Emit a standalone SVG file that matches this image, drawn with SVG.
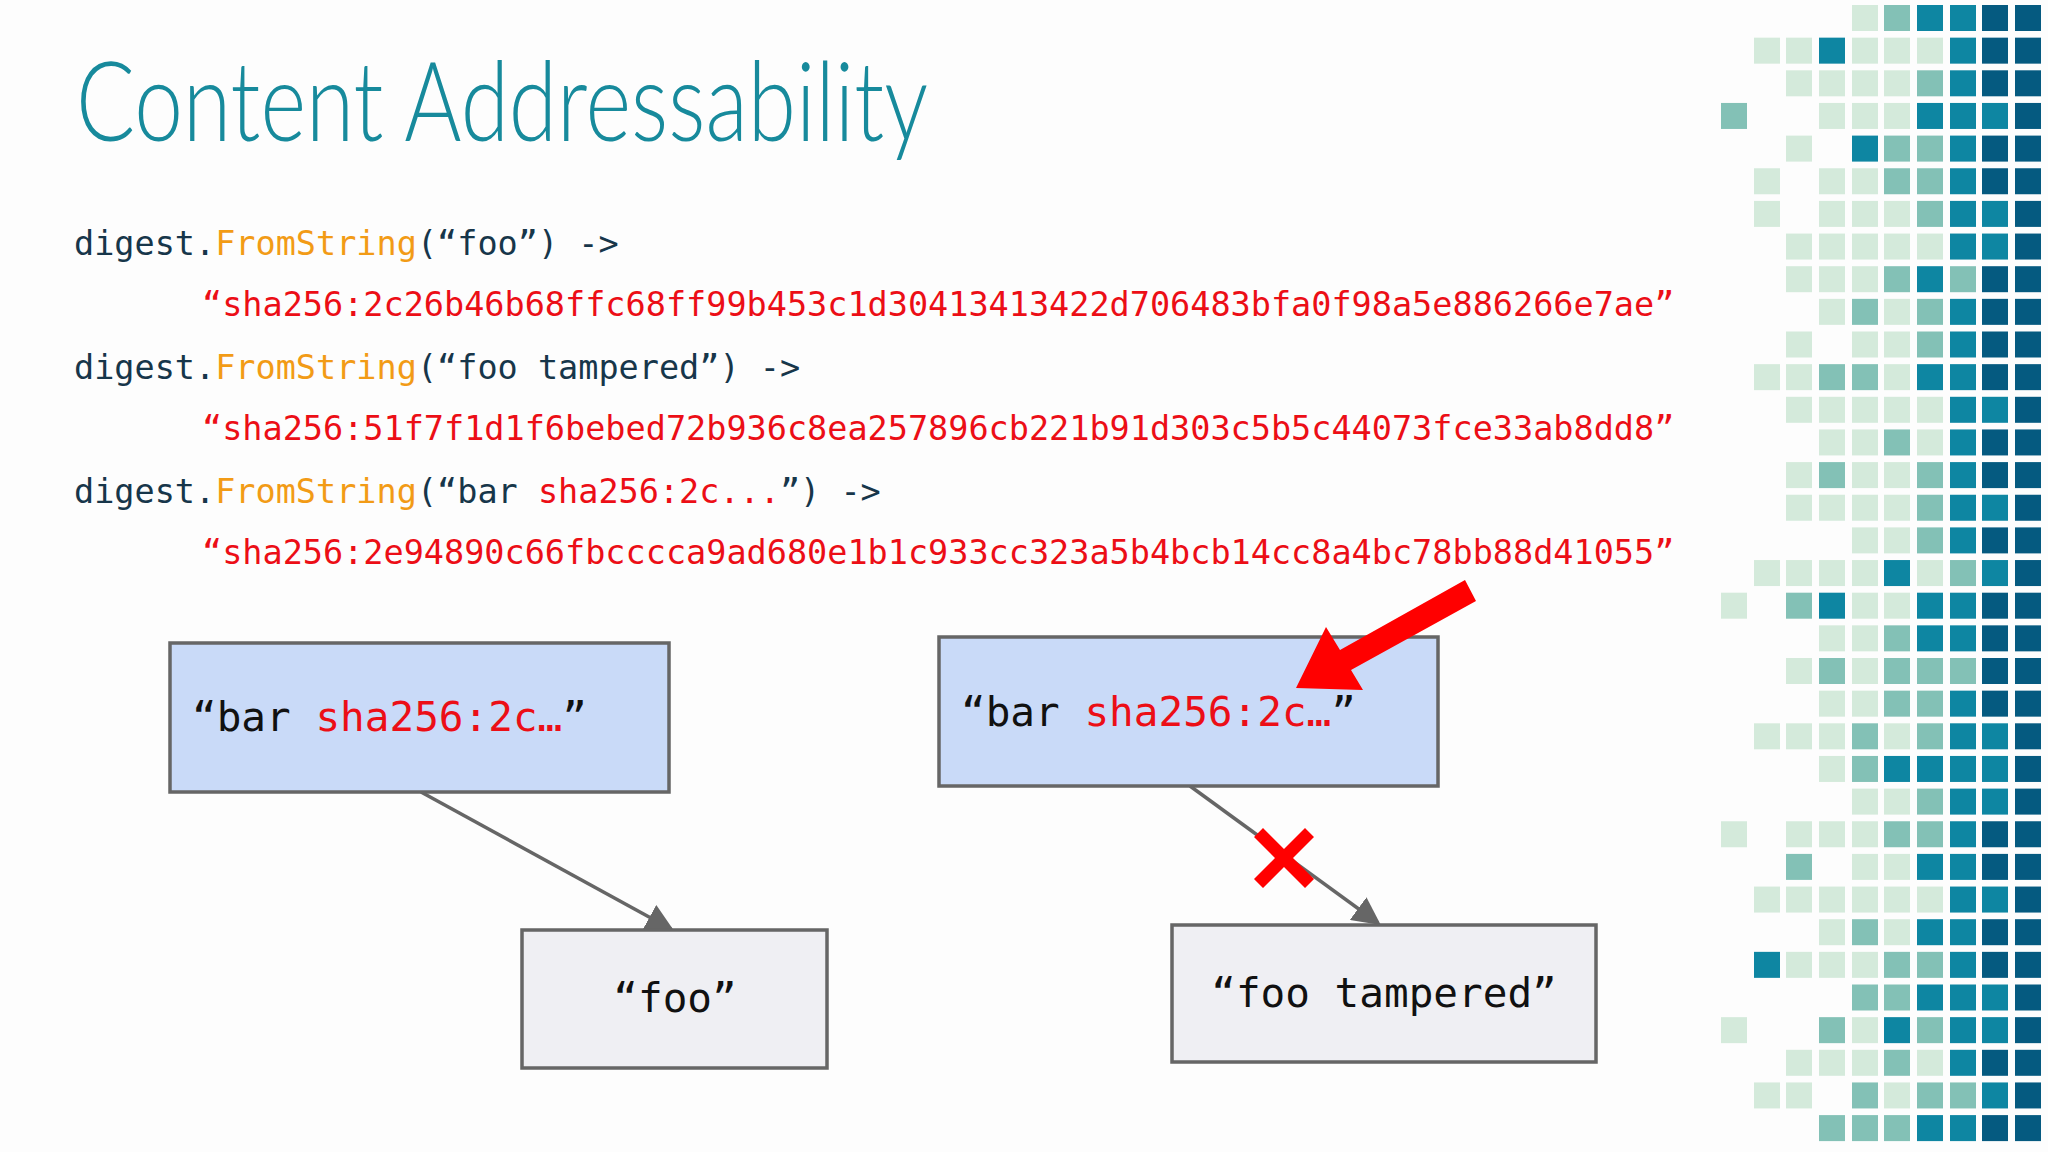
<svg xmlns="http://www.w3.org/2000/svg" width="2048" height="1152" viewBox="0 0 2048 1152">
<defs>
<style>
.code{font-family:"DejaVu Sans Mono","Liberation Mono",monospace;font-size:33.5px;fill:#17364a}
.fn{fill:#f29b16}
.red{fill:#ec0e16}
.box{stroke:#666;stroke-width:3.5}
.blue{fill:#c9daf8}
.grey{fill:#efeff3}
.lbl{font-family:"DejaVu Sans Mono","Liberation Mono",monospace;font-size:41px;fill:#111}
.conn{stroke:#666;stroke-width:3.5;fill:none}
.L{fill:#d4eadb}.M{fill:#83c1b6}.T{fill:#0e86a2}.D{fill:#055a80}
</style>
<marker id="ah" markerWidth="8" markerHeight="8" refX="7" refY="4" orient="auto" markerUnits="strokeWidth"><path d="M0,0 L8,4 L0,8 z" fill="#666"/></marker>
</defs>
<rect width="2048" height="1152" fill="#fdfdfd"/>
<text x="76" y="141" font-family="Lato, 'Open Sans', sans-serif" font-weight="300" font-size="110" fill="#178a9c" textLength="852" lengthAdjust="spacingAndGlyphs">Content Addressability</text>
<g id="code">
<text class="code" x="74" y="255">digest.<tspan class="fn">FromString</tspan>(“foo”) -&gt;</text>
<text class="code red" x="202" y="316">“sha256:2c26b46b68ffc68ff99b453c1d30413413422d706483bfa0f98a5e886266e7ae”</text>
<text class="code" x="74" y="379">digest.<tspan class="fn">FromString</tspan>(“foo tampered”) -&gt;</text>
<text class="code red" x="202" y="440">“sha256:51f7f1d1f6bebed72b936c8ea257896cb221b91d303c5b5c44073fce33ab8dd8”</text>
<text class="code" x="74" y="503">digest.<tspan class="fn">FromString</tspan>(“bar <tspan class="red">sha256:2c...</tspan>”) -&gt;</text>
<text class="code red" x="202" y="564">“sha256:2e94890c66fbcccca9ad680e1b1c933cc323a5b4bcb14cc8a4bc78bb88d41055”</text>
</g>
<g id="connectors">
<line class="conn" x1="421" y1="792" x2="671" y2="929" marker-end="url(#ah)"/>
<line class="conn" x1="1190" y1="786" x2="1378" y2="923" marker-end="url(#ah)"/>
</g>
<g id="nodeA"><rect class="box blue" x="170" y="643" width="499" height="149"/><text class="lbl" x="192" y="731">“bar <tspan class="red">sha256:2c…</tspan>”</text></g>
<g id="nodeB"><rect class="box grey" x="522" y="930" width="305" height="138"/><text class="lbl" x="675" y="1012" text-anchor="middle">“foo”</text></g>
<g id="nodeC"><rect class="box blue" x="939" y="637" width="499" height="149"/><text class="lbl" x="961" y="726">“bar <tspan class="red">sha256:2c…</tspan>”</text></g>
<g id="nodeD"><rect class="box grey" x="1172" y="925" width="424" height="137"/><text class="lbl" x="1384" y="1007" text-anchor="middle">“foo tampered”</text></g>
<g id="cross" transform="translate(1284,858)">
<path d="M-21,-30 L0,-9 L21,-30 L30,-21 L9,0 L30,21 L21,30 L0,9 L-21,30 L-30,21 L-9,0 L-30,-21 z" fill="#ff0000"/>
</g>
<g id="redarrow">
<path d="M1476,601 L1465,580 L1340,650 L1326,627 L1296,688 L1363,690 L1351,670 z" fill="#ff0000"/>
</g>
<g id="grid">
<!-- rows generated -->
<g transform="translate(0,5)">
<rect class="L" x="1852" y="0" width="26" height="26"/><rect class="M" x="1884" y="0" width="26" height="26"/><rect class="T" x="1917" y="0" width="26" height="26"/><rect class="T" x="1950" y="0" width="26" height="26"/><rect class="D" x="1982" y="0" width="26" height="26"/><rect class="D" x="2015" y="0" width="26" height="26"/>
</g>
<g transform="translate(0,37.65)">
<rect class="L" x="1754" y="0" width="26" height="26"/><rect class="L" x="1786" y="0" width="26" height="26"/><rect class="T" x="1819" y="0" width="26" height="26"/><rect class="L" x="1852" y="0" width="26" height="26"/><rect class="L" x="1884" y="0" width="26" height="26"/><rect class="L" x="1917" y="0" width="26" height="26"/><rect class="T" x="1950" y="0" width="26" height="26"/><rect class="D" x="1982" y="0" width="26" height="26"/><rect class="D" x="2015" y="0" width="26" height="26"/>
</g>
<g transform="translate(0,70.3)">
<rect class="L" x="1786" y="0" width="26" height="26"/><rect class="L" x="1819" y="0" width="26" height="26"/><rect class="L" x="1852" y="0" width="26" height="26"/><rect class="L" x="1884" y="0" width="26" height="26"/><rect class="M" x="1917" y="0" width="26" height="26"/><rect class="T" x="1950" y="0" width="26" height="26"/><rect class="D" x="1982" y="0" width="26" height="26"/><rect class="D" x="2015" y="0" width="26" height="26"/>
</g>
<g transform="translate(0,102.95)">
<rect class="M" x="1721" y="0" width="26" height="26"/><rect class="L" x="1819" y="0" width="26" height="26"/><rect class="L" x="1852" y="0" width="26" height="26"/><rect class="L" x="1884" y="0" width="26" height="26"/><rect class="T" x="1917" y="0" width="26" height="26"/><rect class="T" x="1950" y="0" width="26" height="26"/><rect class="T" x="1982" y="0" width="26" height="26"/><rect class="D" x="2015" y="0" width="26" height="26"/>
</g>
<g transform="translate(0,135.6)">
<rect class="L" x="1786" y="0" width="26" height="26"/><rect class="T" x="1852" y="0" width="26" height="26"/><rect class="M" x="1884" y="0" width="26" height="26"/><rect class="M" x="1917" y="0" width="26" height="26"/><rect class="T" x="1950" y="0" width="26" height="26"/><rect class="D" x="1982" y="0" width="26" height="26"/><rect class="D" x="2015" y="0" width="26" height="26"/>
</g>
<g transform="translate(0,168.25)">
<rect class="L" x="1754" y="0" width="26" height="26"/><rect class="L" x="1819" y="0" width="26" height="26"/><rect class="L" x="1852" y="0" width="26" height="26"/><rect class="M" x="1884" y="0" width="26" height="26"/><rect class="M" x="1917" y="0" width="26" height="26"/><rect class="T" x="1950" y="0" width="26" height="26"/><rect class="D" x="1982" y="0" width="26" height="26"/><rect class="D" x="2015" y="0" width="26" height="26"/>
</g>
<g transform="translate(0,200.9)">
<rect class="L" x="1754" y="0" width="26" height="26"/><rect class="L" x="1819" y="0" width="26" height="26"/><rect class="L" x="1852" y="0" width="26" height="26"/><rect class="L" x="1884" y="0" width="26" height="26"/><rect class="M" x="1917" y="0" width="26" height="26"/><rect class="T" x="1950" y="0" width="26" height="26"/><rect class="T" x="1982" y="0" width="26" height="26"/><rect class="D" x="2015" y="0" width="26" height="26"/>
</g>
<g transform="translate(0,233.55)">
<rect class="L" x="1786" y="0" width="26" height="26"/><rect class="L" x="1819" y="0" width="26" height="26"/><rect class="L" x="1852" y="0" width="26" height="26"/><rect class="L" x="1884" y="0" width="26" height="26"/><rect class="L" x="1917" y="0" width="26" height="26"/><rect class="T" x="1950" y="0" width="26" height="26"/><rect class="T" x="1982" y="0" width="26" height="26"/><rect class="D" x="2015" y="0" width="26" height="26"/>
</g>
<g transform="translate(0,266.2)">
<rect class="L" x="1786" y="0" width="26" height="26"/><rect class="L" x="1819" y="0" width="26" height="26"/><rect class="L" x="1852" y="0" width="26" height="26"/><rect class="M" x="1884" y="0" width="26" height="26"/><rect class="T" x="1917" y="0" width="26" height="26"/><rect class="M" x="1950" y="0" width="26" height="26"/><rect class="D" x="1982" y="0" width="26" height="26"/><rect class="D" x="2015" y="0" width="26" height="26"/>
</g>
<g transform="translate(0,298.85)">
<rect class="L" x="1819" y="0" width="26" height="26"/><rect class="M" x="1852" y="0" width="26" height="26"/><rect class="L" x="1884" y="0" width="26" height="26"/><rect class="M" x="1917" y="0" width="26" height="26"/><rect class="T" x="1950" y="0" width="26" height="26"/><rect class="D" x="1982" y="0" width="26" height="26"/><rect class="D" x="2015" y="0" width="26" height="26"/>
</g>
<g transform="translate(0,331.5)">
<rect class="L" x="1786" y="0" width="26" height="26"/><rect class="L" x="1852" y="0" width="26" height="26"/><rect class="L" x="1884" y="0" width="26" height="26"/><rect class="M" x="1917" y="0" width="26" height="26"/><rect class="T" x="1950" y="0" width="26" height="26"/><rect class="D" x="1982" y="0" width="26" height="26"/><rect class="D" x="2015" y="0" width="26" height="26"/>
</g>
<g transform="translate(0,364.15)">
<rect class="L" x="1754" y="0" width="26" height="26"/><rect class="L" x="1786" y="0" width="26" height="26"/><rect class="M" x="1819" y="0" width="26" height="26"/><rect class="M" x="1852" y="0" width="26" height="26"/><rect class="L" x="1884" y="0" width="26" height="26"/><rect class="T" x="1917" y="0" width="26" height="26"/><rect class="T" x="1950" y="0" width="26" height="26"/><rect class="D" x="1982" y="0" width="26" height="26"/><rect class="D" x="2015" y="0" width="26" height="26"/>
</g>
<g transform="translate(0,396.8)">
<rect class="L" x="1786" y="0" width="26" height="26"/><rect class="L" x="1819" y="0" width="26" height="26"/><rect class="L" x="1852" y="0" width="26" height="26"/><rect class="L" x="1884" y="0" width="26" height="26"/><rect class="L" x="1917" y="0" width="26" height="26"/><rect class="T" x="1950" y="0" width="26" height="26"/><rect class="T" x="1982" y="0" width="26" height="26"/><rect class="D" x="2015" y="0" width="26" height="26"/>
</g>
<g transform="translate(0,429.45)">
<rect class="L" x="1819" y="0" width="26" height="26"/><rect class="L" x="1852" y="0" width="26" height="26"/><rect class="M" x="1884" y="0" width="26" height="26"/><rect class="L" x="1917" y="0" width="26" height="26"/><rect class="T" x="1950" y="0" width="26" height="26"/><rect class="D" x="1982" y="0" width="26" height="26"/><rect class="D" x="2015" y="0" width="26" height="26"/>
</g>
<g transform="translate(0,462.1)">
<rect class="L" x="1786" y="0" width="26" height="26"/><rect class="M" x="1819" y="0" width="26" height="26"/><rect class="L" x="1852" y="0" width="26" height="26"/><rect class="L" x="1884" y="0" width="26" height="26"/><rect class="M" x="1917" y="0" width="26" height="26"/><rect class="T" x="1950" y="0" width="26" height="26"/><rect class="D" x="1982" y="0" width="26" height="26"/><rect class="D" x="2015" y="0" width="26" height="26"/>
</g>
<g transform="translate(0,494.75)">
<rect class="L" x="1786" y="0" width="26" height="26"/><rect class="L" x="1819" y="0" width="26" height="26"/><rect class="L" x="1852" y="0" width="26" height="26"/><rect class="L" x="1884" y="0" width="26" height="26"/><rect class="M" x="1917" y="0" width="26" height="26"/><rect class="T" x="1950" y="0" width="26" height="26"/><rect class="T" x="1982" y="0" width="26" height="26"/><rect class="D" x="2015" y="0" width="26" height="26"/>
</g>
<g transform="translate(0,527.4)">
<rect class="L" x="1852" y="0" width="26" height="26"/><rect class="L" x="1884" y="0" width="26" height="26"/><rect class="M" x="1917" y="0" width="26" height="26"/><rect class="T" x="1950" y="0" width="26" height="26"/><rect class="D" x="1982" y="0" width="26" height="26"/><rect class="D" x="2015" y="0" width="26" height="26"/>
</g>
<g transform="translate(0,560.05)">
<rect class="L" x="1754" y="0" width="26" height="26"/><rect class="L" x="1786" y="0" width="26" height="26"/><rect class="L" x="1819" y="0" width="26" height="26"/><rect class="L" x="1852" y="0" width="26" height="26"/><rect class="T" x="1884" y="0" width="26" height="26"/><rect class="L" x="1917" y="0" width="26" height="26"/><rect class="M" x="1950" y="0" width="26" height="26"/><rect class="T" x="1982" y="0" width="26" height="26"/><rect class="D" x="2015" y="0" width="26" height="26"/>
</g>
<g transform="translate(0,592.7)">
<rect class="L" x="1721" y="0" width="26" height="26"/><rect class="M" x="1786" y="0" width="26" height="26"/><rect class="T" x="1819" y="0" width="26" height="26"/><rect class="L" x="1852" y="0" width="26" height="26"/><rect class="L" x="1884" y="0" width="26" height="26"/><rect class="T" x="1917" y="0" width="26" height="26"/><rect class="T" x="1950" y="0" width="26" height="26"/><rect class="D" x="1982" y="0" width="26" height="26"/><rect class="D" x="2015" y="0" width="26" height="26"/>
</g>
<g transform="translate(0,625.35)">
<rect class="L" x="1819" y="0" width="26" height="26"/><rect class="L" x="1852" y="0" width="26" height="26"/><rect class="M" x="1884" y="0" width="26" height="26"/><rect class="T" x="1917" y="0" width="26" height="26"/><rect class="T" x="1950" y="0" width="26" height="26"/><rect class="D" x="1982" y="0" width="26" height="26"/><rect class="D" x="2015" y="0" width="26" height="26"/>
</g>
<g transform="translate(0,658)">
<rect class="L" x="1786" y="0" width="26" height="26"/><rect class="M" x="1819" y="0" width="26" height="26"/><rect class="L" x="1852" y="0" width="26" height="26"/><rect class="M" x="1884" y="0" width="26" height="26"/><rect class="M" x="1917" y="0" width="26" height="26"/><rect class="M" x="1950" y="0" width="26" height="26"/><rect class="D" x="1982" y="0" width="26" height="26"/><rect class="D" x="2015" y="0" width="26" height="26"/>
</g>
<g transform="translate(0,690.65)">
<rect class="L" x="1819" y="0" width="26" height="26"/><rect class="L" x="1852" y="0" width="26" height="26"/><rect class="M" x="1884" y="0" width="26" height="26"/><rect class="M" x="1917" y="0" width="26" height="26"/><rect class="T" x="1950" y="0" width="26" height="26"/><rect class="D" x="1982" y="0" width="26" height="26"/><rect class="D" x="2015" y="0" width="26" height="26"/>
</g>
<g transform="translate(0,723.3)">
<rect class="L" x="1754" y="0" width="26" height="26"/><rect class="L" x="1786" y="0" width="26" height="26"/><rect class="L" x="1819" y="0" width="26" height="26"/><rect class="M" x="1852" y="0" width="26" height="26"/><rect class="L" x="1884" y="0" width="26" height="26"/><rect class="M" x="1917" y="0" width="26" height="26"/><rect class="T" x="1950" y="0" width="26" height="26"/><rect class="T" x="1982" y="0" width="26" height="26"/><rect class="D" x="2015" y="0" width="26" height="26"/>
</g>
<g transform="translate(0,755.95)">
<rect class="L" x="1819" y="0" width="26" height="26"/><rect class="M" x="1852" y="0" width="26" height="26"/><rect class="T" x="1884" y="0" width="26" height="26"/><rect class="T" x="1917" y="0" width="26" height="26"/><rect class="T" x="1950" y="0" width="26" height="26"/><rect class="T" x="1982" y="0" width="26" height="26"/><rect class="D" x="2015" y="0" width="26" height="26"/>
</g>
<g transform="translate(0,788.6)">
<rect class="L" x="1852" y="0" width="26" height="26"/><rect class="L" x="1884" y="0" width="26" height="26"/><rect class="M" x="1917" y="0" width="26" height="26"/><rect class="T" x="1950" y="0" width="26" height="26"/><rect class="T" x="1982" y="0" width="26" height="26"/><rect class="D" x="2015" y="0" width="26" height="26"/>
</g>
<g transform="translate(0,821.25)">
<rect class="L" x="1721" y="0" width="26" height="26"/><rect class="L" x="1786" y="0" width="26" height="26"/><rect class="L" x="1819" y="0" width="26" height="26"/><rect class="L" x="1852" y="0" width="26" height="26"/><rect class="M" x="1884" y="0" width="26" height="26"/><rect class="M" x="1917" y="0" width="26" height="26"/><rect class="T" x="1950" y="0" width="26" height="26"/><rect class="D" x="1982" y="0" width="26" height="26"/><rect class="D" x="2015" y="0" width="26" height="26"/>
</g>
<g transform="translate(0,853.9)">
<rect class="M" x="1786" y="0" width="26" height="26"/><rect class="L" x="1852" y="0" width="26" height="26"/><rect class="L" x="1884" y="0" width="26" height="26"/><rect class="T" x="1917" y="0" width="26" height="26"/><rect class="T" x="1950" y="0" width="26" height="26"/><rect class="D" x="1982" y="0" width="26" height="26"/><rect class="D" x="2015" y="0" width="26" height="26"/>
</g>
<g transform="translate(0,886.55)">
<rect class="L" x="1754" y="0" width="26" height="26"/><rect class="L" x="1786" y="0" width="26" height="26"/><rect class="L" x="1819" y="0" width="26" height="26"/><rect class="L" x="1852" y="0" width="26" height="26"/><rect class="L" x="1884" y="0" width="26" height="26"/><rect class="L" x="1917" y="0" width="26" height="26"/><rect class="T" x="1950" y="0" width="26" height="26"/><rect class="T" x="1982" y="0" width="26" height="26"/><rect class="D" x="2015" y="0" width="26" height="26"/>
</g>
<g transform="translate(0,919.2)">
<rect class="L" x="1819" y="0" width="26" height="26"/><rect class="M" x="1852" y="0" width="26" height="26"/><rect class="L" x="1884" y="0" width="26" height="26"/><rect class="T" x="1917" y="0" width="26" height="26"/><rect class="T" x="1950" y="0" width="26" height="26"/><rect class="D" x="1982" y="0" width="26" height="26"/><rect class="D" x="2015" y="0" width="26" height="26"/>
</g>
<g transform="translate(0,951.85)">
<rect class="T" x="1754" y="0" width="26" height="26"/><rect class="L" x="1786" y="0" width="26" height="26"/><rect class="L" x="1819" y="0" width="26" height="26"/><rect class="L" x="1852" y="0" width="26" height="26"/><rect class="M" x="1884" y="0" width="26" height="26"/><rect class="M" x="1917" y="0" width="26" height="26"/><rect class="T" x="1950" y="0" width="26" height="26"/><rect class="D" x="1982" y="0" width="26" height="26"/><rect class="D" x="2015" y="0" width="26" height="26"/>
</g>
<g transform="translate(0,984.5)">
<rect class="M" x="1852" y="0" width="26" height="26"/><rect class="M" x="1884" y="0" width="26" height="26"/><rect class="T" x="1917" y="0" width="26" height="26"/><rect class="T" x="1950" y="0" width="26" height="26"/><rect class="T" x="1982" y="0" width="26" height="26"/><rect class="D" x="2015" y="0" width="26" height="26"/>
</g>
<g transform="translate(0,1017.15)">
<rect class="L" x="1721" y="0" width="26" height="26"/><rect class="M" x="1819" y="0" width="26" height="26"/><rect class="L" x="1852" y="0" width="26" height="26"/><rect class="T" x="1884" y="0" width="26" height="26"/><rect class="M" x="1917" y="0" width="26" height="26"/><rect class="T" x="1950" y="0" width="26" height="26"/><rect class="T" x="1982" y="0" width="26" height="26"/><rect class="D" x="2015" y="0" width="26" height="26"/>
</g>
<g transform="translate(0,1049.8)">
<rect class="L" x="1786" y="0" width="26" height="26"/><rect class="L" x="1819" y="0" width="26" height="26"/><rect class="L" x="1852" y="0" width="26" height="26"/><rect class="M" x="1884" y="0" width="26" height="26"/><rect class="L" x="1917" y="0" width="26" height="26"/><rect class="T" x="1950" y="0" width="26" height="26"/><rect class="D" x="1982" y="0" width="26" height="26"/><rect class="D" x="2015" y="0" width="26" height="26"/>
</g>
<g transform="translate(0,1082.45)">
<rect class="L" x="1754" y="0" width="26" height="26"/><rect class="L" x="1786" y="0" width="26" height="26"/><rect class="M" x="1852" y="0" width="26" height="26"/><rect class="L" x="1884" y="0" width="26" height="26"/><rect class="M" x="1917" y="0" width="26" height="26"/><rect class="M" x="1950" y="0" width="26" height="26"/><rect class="T" x="1982" y="0" width="26" height="26"/><rect class="D" x="2015" y="0" width="26" height="26"/>
</g>
<g transform="translate(0,1115.1)">
<rect class="M" x="1819" y="0" width="26" height="26"/><rect class="M" x="1852" y="0" width="26" height="26"/><rect class="M" x="1884" y="0" width="26" height="26"/><rect class="T" x="1917" y="0" width="26" height="26"/><rect class="T" x="1950" y="0" width="26" height="26"/><rect class="D" x="1982" y="0" width="26" height="26"/><rect class="D" x="2015" y="0" width="26" height="26"/>
</g>
</g>
</svg>
